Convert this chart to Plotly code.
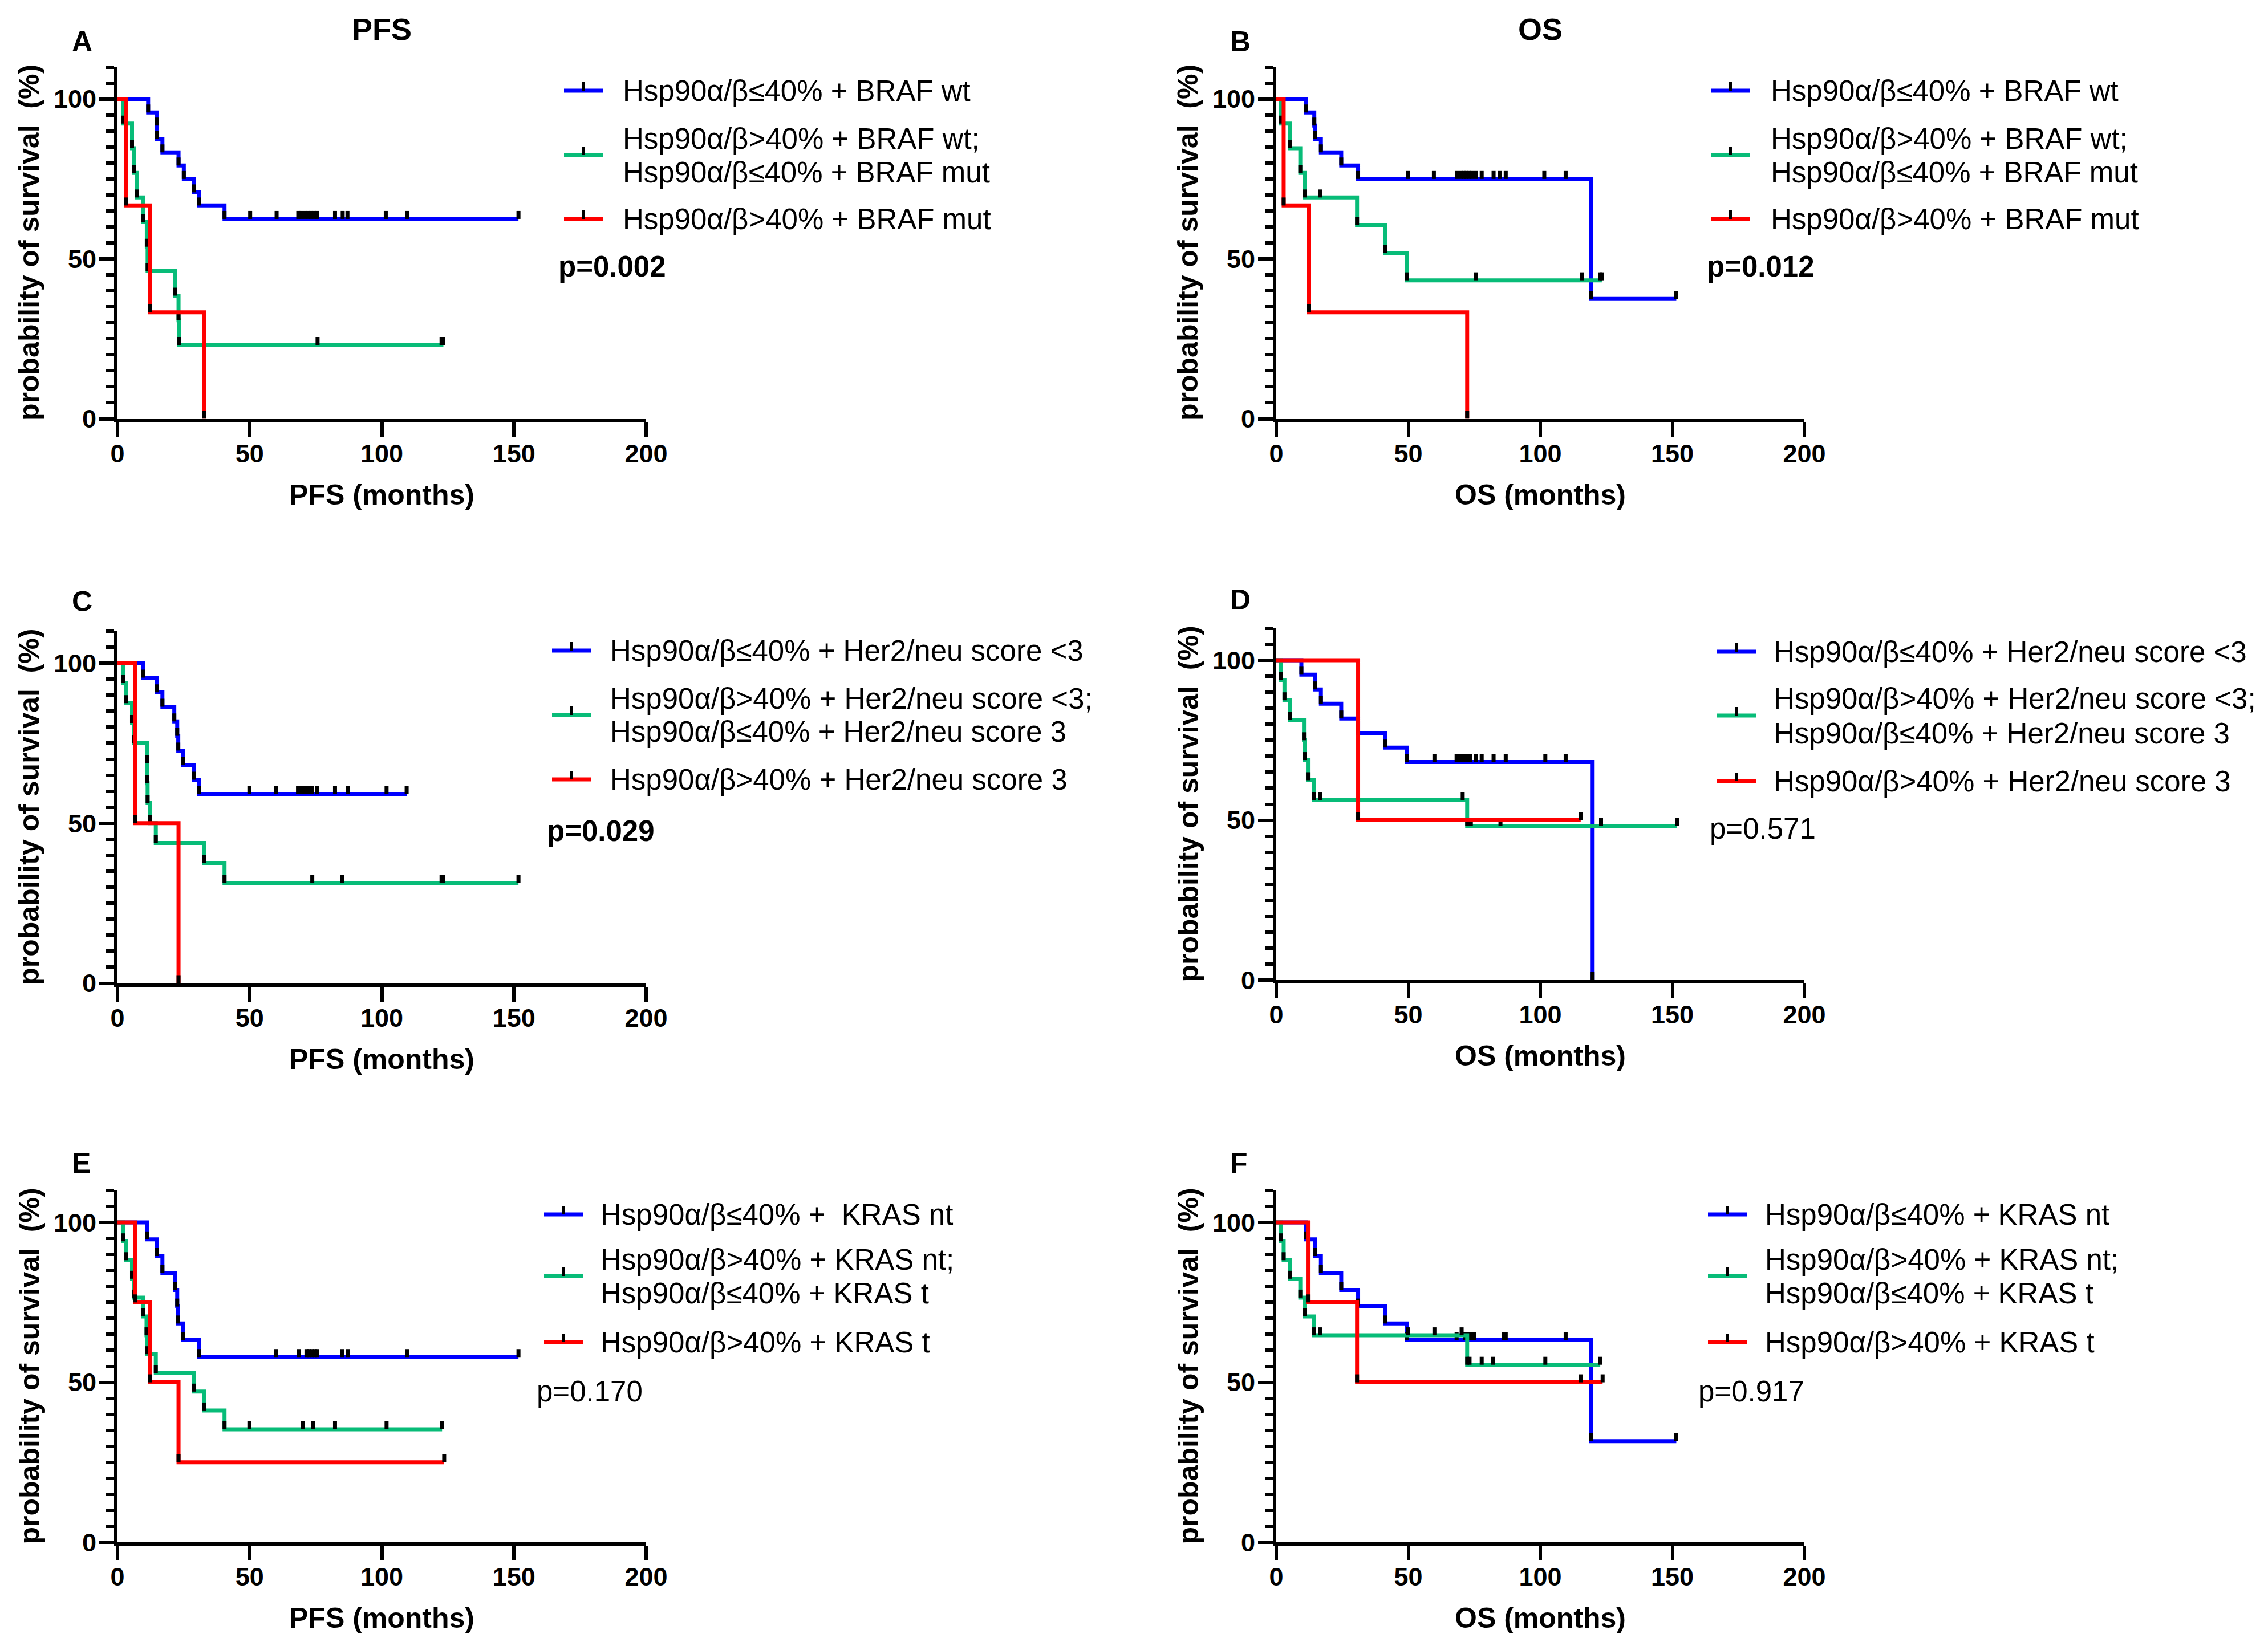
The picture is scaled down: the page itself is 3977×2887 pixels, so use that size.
import plotly.graph_objects as go

# ---------------- figure geometry ----------------
W, H, OFF = 3961, 2871, 8

def px(x):
    return (x - OFF) / W

def py(y):
    return 1 - (y - OFF) / H

# ---------------- data: event times (months), survival after event (%), censor times ----------------
# Panel A (PFS, BRAF)
A_blue_t = [11.6, 14.8, 15.0, 17.0, 23.1, 25.1, 28.9, 30.9, 40.5]
A_blue_s = [95.8, 91.7, 87.5, 83.3, 79.2, 75.0, 70.8, 66.7, 62.5]
A_blue_c = [50.2, 60.2, 68.4, 69.6, 70.8, 72.0, 73.2, 74.4, 75.4, 82.3, 85.2, 87.0, 101.5, 109.6, 151.7]
A_green_t = [2.1, 5.5, 6.3, 7.3, 9.6, 11.1, 11.4, 21.8, 23.1, 23.3]
A_green_s = [92.3, 84.6, 76.9, 69.2, 61.5, 53.8, 46.2, 38.5, 30.8, 23.1]
A_green_c = [75.7, 122.6, 123.3]
A_red_t = [3.3, 12.4, 32.7]
A_red_s = [66.7, 33.3, 0.0]
A_red_c = []

# Panel B (OS, BRAF)
B_blue_t = [11.2, 14.4, 14.6, 16.9, 24.6, 31.0, 119.3]
B_blue_s = [95.8, 91.7, 87.5, 83.3, 79.2, 75.0, 37.5]
B_blue_c = [50.0, 59.7, 68.5, 70.0, 71.0, 72.0, 73.0, 74.0, 75.5, 77.8, 82.3, 84.7, 86.9, 101.5, 109.6, 151.5]
B_green_t = [1.7, 5.2, 9.1, 10.8, 30.6, 41.3, 49.4]
B_green_s = [92.3, 84.6, 76.9, 69.2, 60.6, 51.9, 43.3]
B_green_c = [16.7, 75.7, 115.7, 122.6, 123.3]
B_red_t = [2.8, 12.4, 72.3]
B_red_s = [66.7, 33.3, 0.0]
B_red_c = []

# Panel C (PFS, Her2/neu)
C_blue_t = [9.6, 14.9, 17.0, 21.5, 22.6, 23.0, 24.8, 28.9, 30.9]
C_blue_s = [95.5, 90.9, 86.4, 81.8, 77.3, 72.7, 68.2, 63.6, 59.1]
C_blue_c = [49.9, 60.0, 68.3, 69.5, 70.5, 71.5, 72.5, 73.5, 75.5, 82.3, 87.1, 101.8, 109.4]
C_green_t = [2.1, 3.3, 5.5, 6.3, 11.2, 11.3, 11.4, 12.4, 14.5, 32.7, 40.5]
C_green_s = [93.8, 87.5, 81.3, 75.0, 68.8, 62.5, 56.3, 50.0, 43.8, 37.5, 31.3]
C_green_c = [73.7, 85.0, 122.6, 123.3, 151.7]
C_red_t = [6.6, 23.1]
C_red_s = [50.0, 0.0]
C_red_c = []

# Panel D (OS, Her2/neu)
D_blue_t = [9.5, 14.6, 16.9, 24.6, 31.0, 41.3, 49.4, 119.6]
D_blue_s = [95.5, 90.9, 86.4, 81.8, 77.3, 72.7, 68.2, 0.0]
D_blue_c = [59.9, 68.3, 69.5, 70.5, 71.5, 72.5, 73.5, 75.7, 77.8, 82.3, 86.9, 101.9, 109.6]
D_green_t = [1.7, 3.1, 5.2, 10.5, 10.8, 12.0, 14.3, 72.3]
D_green_s = [93.8, 87.5, 81.3, 75.0, 68.8, 62.5, 56.3, 48.2]
D_green_c = [16.7, 70.6, 73.7, 84.9, 123.0, 151.8]
D_red_t = [31.0]
D_red_s = [50.0]
D_red_c = [115.3]

# Panel E (PFS, KRAS)
E_blue_t = [11.2, 14.9, 17.0, 21.8, 22.6, 22.9, 24.8, 30.9]
E_blue_s = [94.7, 89.5, 84.2, 78.9, 73.7, 68.4, 63.2, 57.9]
E_blue_c = [60.0, 68.6, 71.5, 72.5, 73.5, 74.5, 75.5, 85.1, 87.1, 109.6, 151.7]
E_green_t = [2.1, 3.3, 5.5, 6.3, 9.6, 11.0, 11.2, 14.5, 28.9, 32.7, 40.5]
E_green_s = [94.1, 88.2, 82.4, 76.5, 70.6, 64.7, 58.8, 52.9, 47.1, 41.2, 35.3]
E_green_c = [49.9, 70.2, 73.9, 82.3, 101.8, 122.8]
E_red_t = [6.6, 12.4, 23.1]
E_red_s = [75.0, 50.0, 25.0]
E_red_c = [123.6]

# Panel F (OS, KRAS)
F_blue_t = [11.2, 14.6, 16.9, 24.6, 31.0, 41.3, 49.4, 119.3]
F_blue_s = [94.7, 89.5, 84.2, 78.9, 73.7, 68.4, 63.2, 31.6]
F_blue_c = [68.3, 71.5, 72.5, 73.5, 75.0, 86.1, 86.9, 109.6, 151.5]
F_green_t = [1.7, 2.8, 5.2, 9.1, 10.8, 14.3, 72.3]
F_green_s = [94.1, 88.2, 82.4, 76.5, 70.6, 64.7, 55.5]
F_green_c = [16.7, 49.9, 59.9, 70.2, 73.2, 77.8, 82.1, 101.9, 122.7]
F_red_t = [12.0, 30.6]
F_red_s = [75.0, 50.0]
F_red_c = [115.3, 123.6]

X_TICKS = [0, 50, 100, 150, 200]
Y_TICKS = [0, 50, 100]

LEG_BRAF = ["Hsp90α/β≤40% + BRAF wt",
            ["Hsp90α/β>40% + BRAF wt;", "Hsp90α/β≤40% + BRAF mut"],
            "Hsp90α/β>40% + BRAF mut"]
LEG_HER2 = ["Hsp90α/β≤40% + Her2/neu score <3",
            ["Hsp90α/β>40% + Her2/neu score <3;", "Hsp90α/β≤40% + Her2/neu score 3"],
            "Hsp90α/β>40% + Her2/neu score 3"]
LEG_KRAS_E = ["Hsp90α/β≤40% +\u00a0 KRAS nt",
              ["Hsp90α/β>40% + KRAS nt;", "Hsp90α/β≤40% + KRAS t"],
              "Hsp90α/β>40% + KRAS t"]
LEG_KRAS_F = ["Hsp90α/β≤40% + KRAS nt",
              ["Hsp90α/β>40% + KRAS nt;", "Hsp90α/β≤40% + KRAS t"],
              "Hsp90α/β>40% + KRAS t"]

BLUE, GREEN, RED = "#0000FF", "#08BC78", "#FF0000"
FONT = "Liberation Sans, Arial, sans-serif"
TICKFONT = dict(family=FONT, size=45, color="black", weight="bold")

panels = [
    dict(letter="A", xt="PFS (months)", p="p=0.002", pb=True,
         curves=[(A_blue_t, A_blue_s, A_blue_c, BLUE), (A_green_t, A_green_s, A_green_c, GREEN), (A_red_t, A_red_s, A_red_c, RED)],
         leg=LEG_BRAF, xd=(206, 1133), yd=(117.5, 734.5), lx=989, tx=1090,
         ly=(159, 243, 302, 272, 384), pp=(977, 467), lp=(124, 73)),
    dict(letter="B", xt="OS (months)", p="p=0.012", pb=True,
         curves=[(B_blue_t, B_blue_s, B_blue_c, BLUE), (B_green_t, B_green_s, B_green_c, GREEN), (B_red_t, B_red_s, B_red_c, RED)],
         leg=LEG_BRAF, xd=(2238, 3164), yd=(117.5, 734.5), lx=3000, tx=3103,
         ly=(159, 243, 302, 272, 384), pp=(2991, 467), lp=(2155, 73)),
    dict(letter="C", xt="PFS (months)", p="p=0.029", pb=True,
         curves=[(C_blue_t, C_blue_s, C_blue_c, BLUE), (C_green_t, C_green_s, C_green_c, GREEN), (C_red_t, C_red_s, C_red_c, RED)],
         leg=LEG_HER2, xd=(206, 1133), yd=(1107, 1724.5), lx=968, tx=1068,
         ly=(1141, 1225, 1283, 1254, 1367), pp=(957, 1457), lp=(124, 1055)),
    dict(letter="D", xt="OS (months)", p="p=0.571", pb=False,
         curves=[(D_blue_t, D_blue_s, D_blue_c, BLUE), (D_green_t, D_green_s, D_green_c, GREEN), (D_red_t, D_red_s, D_red_c, RED)],
         leg=LEG_HER2, xd=(2238, 3164), yd=(1102, 1719), lx=3011, tx=3108,
         ly=(1143, 1225, 1286, 1255, 1370), pp=(2996, 1453), lp=(2155, 1052)),
    dict(letter="E", xt="PFS (months)", p="p=0.170", pb=False,
         curves=[(E_blue_t, E_blue_s, E_blue_c, BLUE), (E_green_t, E_green_s, E_green_c, GREEN), (E_red_t, E_red_s, E_red_c, RED)],
         leg=LEG_KRAS_E, xd=(206, 1133), yd=(2088, 2705), lx=954, tx=1051,
         ly=(2130, 2209, 2268, 2238, 2354), pp=(939, 2440), lp=(124, 2040)),
    dict(letter="F", xt="OS (months)", p="p=0.917", pb=False,
         curves=[(F_blue_t, F_blue_s, F_blue_c, BLUE), (F_green_t, F_green_s, F_green_c, GREEN), (F_red_t, F_red_s, F_red_c, RED)],
         leg=LEG_KRAS_F, xd=(2238, 3164), yd=(2088, 2705), lx=2995, tx=3093,
         ly=(2130, 2209, 2268, 2238, 2354), pp=(2976, 2440), lp=(2155, 2040)),
]


def level_at(t, s, time):
    lv = 100.0
    for ti, si in zip(t, s):
        if ti <= time:
            lv = si
    return lv


def step_path(t, s, c):
    xs, ys = [0.0], [100.0]
    cur = 100.0
    for ti, si in zip(t, s):
        xs += [ti, ti]
        ys += [cur, si]
        cur = si
    end = max(list(t) + list(c))
    if end > xs[-1]:
        xs.append(end)
        ys.append(cur)
    return xs, ys


fig = go.Figure()
annotations = []
shapes = []

for i, P in enumerate(panels):
    n = "" if i == 0 else str(i + 1)
    xr, yr = "x" + n, "y" + n
    for (t, s, c, col) in P["curves"]:
        xs, ys = step_path(t, s, c)
        fig.add_trace(go.Scatter(x=xs, y=ys, mode="lines", xaxis=xr, yaxis=yr,
                                 line=dict(color=col, width=7), showlegend=False, hoverinfo="skip"))
        mx = list(t) + list(c)
        my = list(s) + [level_at(t, s, ci) for ci in c]
        fig.add_trace(go.Scatter(x=mx, y=my, mode="markers", xaxis=xr, yaxis=yr,
                                 marker=dict(symbol="line-ns", size=10, angle=180, standoff=7,
                                             line=dict(color="black", width=7)),
                                 showlegend=False, hoverinfo="skip"))
    x0, x1 = P["xd"]
    y0, y1 = P["yd"]
    fig.layout["xaxis" + n] = dict(domain=[px(x0), px(x1)], range=[0, 200], tickvals=X_TICKS,
                                   ticks="outside", ticklen=26, tickwidth=6, tickcolor="black",
                                   showline=True, linewidth=6, linecolor="black", showgrid=False,
                                   zeroline=False, anchor=yr, tickfont=TICKFONT, fixedrange=True,
                                   automargin=False, ticklabelstandoff=-10)
    fig.layout["yaxis" + n] = dict(domain=[py(y1), py(y0)], range=[0, 110], tickvals=Y_TICKS,
                                   ticks="outside", ticklen=26, tickwidth=6, tickcolor="black",
                                   minor=dict(dtick=5, tick0=0, ticks="outside", ticklen=14,
                                              tickwidth=6, tickcolor="black", showgrid=False),
                                   showline=True, linewidth=6, linecolor="black", showgrid=False,
                                   zeroline=False, anchor=xr, tickfont=TICKFONT, fixedrange=True,
                                   automargin=False, ticklabelstandoff=-4)
    xc = (x0 + x1) / 2
    # axis titles
    annotations.append(dict(text=P["xt"], x=px(xc), y=py(y1 + 133), xref="paper", yref="paper",
                            xanchor="center", yanchor="middle", showarrow=False,
                            font=dict(family=FONT, size=50, color="black", weight="bold")))
    annotations.append(dict(text="probability of survival\u00a0 (%)", x=px(x0 - 155), y=py((y0 + y1) / 2),
                            xref="paper", yref="paper", xanchor="center", yanchor="middle",
                            textangle=-90, showarrow=False,
                            font=dict(family=FONT, size=50, color="black", weight="bold")))
    # panel letter
    annotations.append(dict(text=P["letter"], x=px(P["lp"][0]), y=py(P["lp"][1]), xref="paper", yref="paper",
                            xanchor="left", yanchor="middle", showarrow=False,
                            font=dict(family=FONT, size=50, color="black", weight="bold")))
    # legend
    lx, tx = P["lx"], P["tx"]
    r1, r2a, r2b, r2s, r3 = P["ly"]
    cols = [BLUE, GREEN, RED]
    sample_y = [r1, r2s, r3]
    for k in range(3):
        shapes.append(dict(type="line", xref="paper", yref="paper", x0=px(lx), x1=px(lx + 68),
                           y0=py(sample_y[k]), y1=py(sample_y[k]), line=dict(color=cols[k], width=7)))
        shapes.append(dict(type="line", xref="paper", yref="paper", x0=px(lx + 34), x1=px(lx + 34),
                           y0=py(sample_y[k]), y1=py(sample_y[k] - 15), line=dict(color="black", width=6)))
    leg = P["leg"]
    for txt, yy in [(leg[0], r1), (leg[1][0], r2a), (leg[1][1], r2b), (leg[2], r3)]:
        annotations.append(dict(text=txt, x=px(tx), y=py(yy), xref="paper", yref="paper",
                                xanchor="left", yanchor="middle", showarrow=False,
                                font=dict(family=FONT, size=51, color="black")))
    annotations.append(dict(text=P["p"], x=px(P["pp"][0]), y=py(P["pp"][1]), xref="paper", yref="paper",
                            xanchor="left", yanchor="middle", showarrow=False,
                            font=dict(family=FONT, size=51, color="black",
                                      weight="bold" if P["pb"] else "normal")))

# column titles
annotations.append(dict(text="PFS", x=px(669), y=py(51), xref="paper", yref="paper", showarrow=False,
                        xanchor="center", yanchor="middle",
                        font=dict(family=FONT, size=54, color="black", weight="bold")))
annotations.append(dict(text="OS", x=px(2701), y=py(51), xref="paper", yref="paper", showarrow=False,
                        xanchor="center", yanchor="middle",
                        font=dict(family=FONT, size=54, color="black", weight="bold")))

fig.update_layout(width=W, height=H, margin=dict(l=0, r=0, t=0, b=0, autoexpand=False),
                  paper_bgcolor="white", plot_bgcolor="white", showlegend=False,
                  annotations=annotations, shapes=shapes, font=dict(family=FONT))

fig.write_html("out.html")
